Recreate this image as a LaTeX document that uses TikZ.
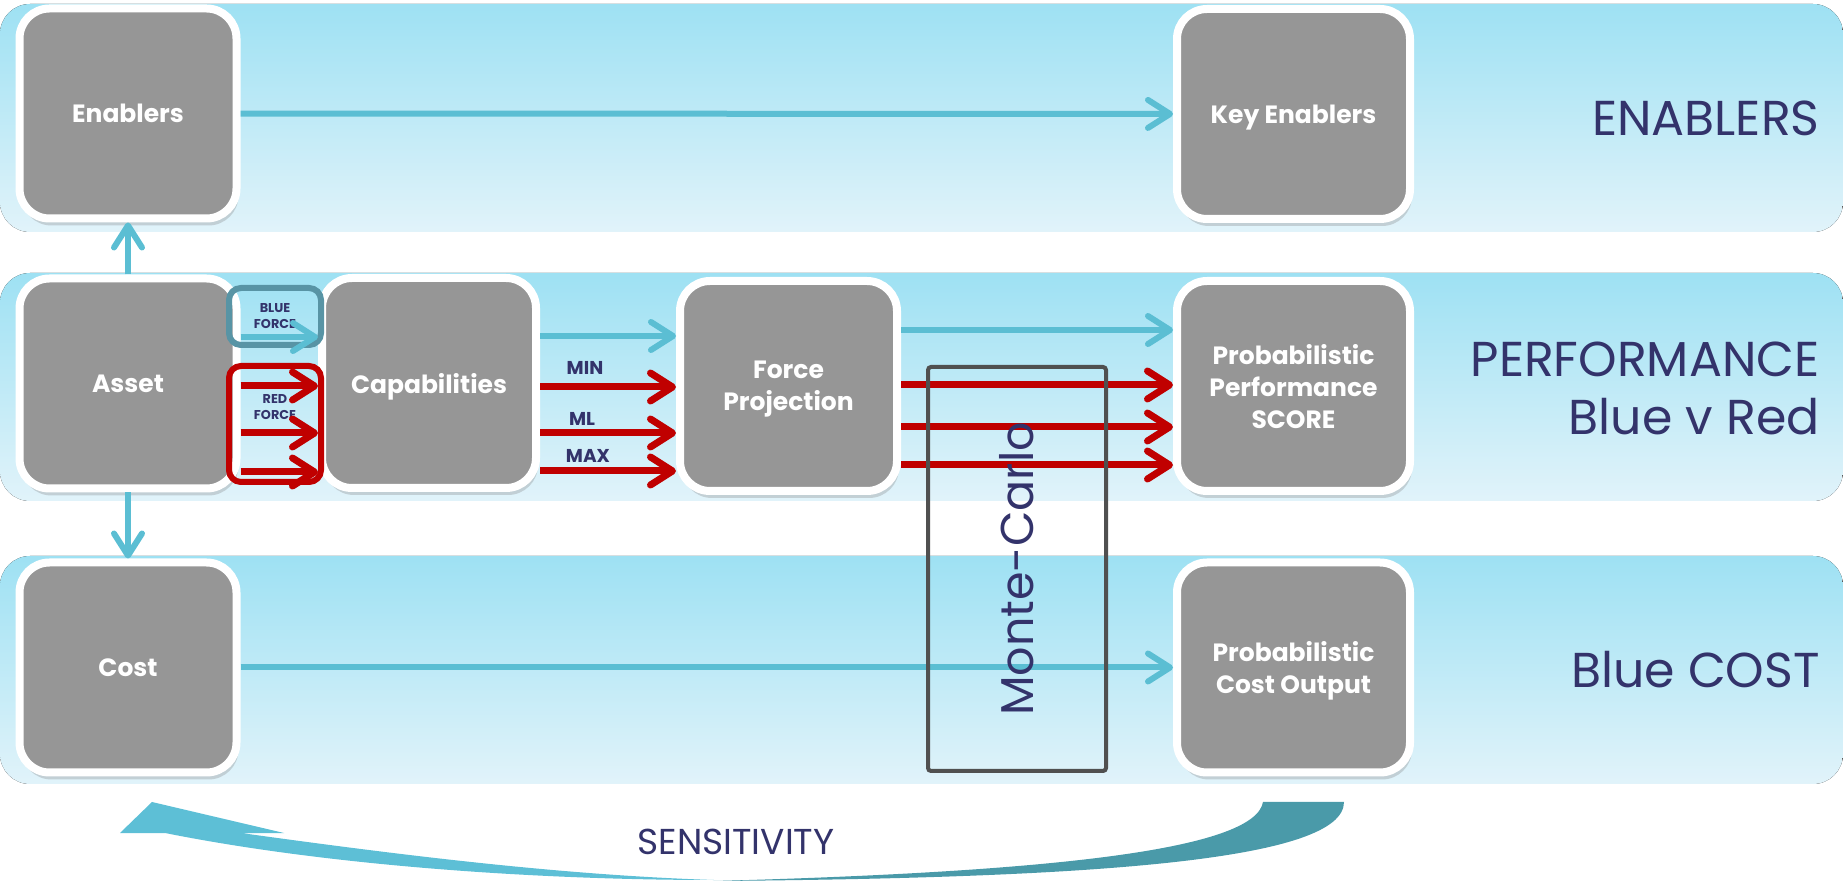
\documentclass[tikz,border=0pt]{standalone}
\usepackage{fontspec}
\setmainfont{Poppins}
\usepackage{xcolor}
\usepackage{tikz}
\usetikzlibrary{arrows.meta, shadows}

\definecolor{bandtop}{HTML}{9EE1F3}
\definecolor{bandbot}{HTML}{E1F3FA}
\definecolor{boxgray}{HTML}{969696}
\definecolor{flowblue}{HTML}{5BBED3}
\definecolor{flowred}{HTML}{C00000}
\definecolor{labnavy}{HTML}{33336B}
\definecolor{forceblue}{HTML}{5894A5}
\definecolor{mcgray}{HTML}{505050}
\definecolor{senslight}{HTML}{5DBFD6}
\definecolor{sensdark}{HTML}{4A9AA9}

\begin{document}
\begin{tikzpicture}[
    x=0.5pt, y=-0.5pt,
    band/.style={top color=bandtop, bottom color=bandbot, rounded corners=15pt},
    blk/.style={rectangle, rounded corners=15pt, draw=white, fill=boxgray, line width=4pt, minimum width=108.5pt, minimum height=105pt, align=center, text depth=0pt, text=white, font=\fontsize{12.5}{16}\selectfont\bfseries, drop shadow={shadow xshift=1pt, shadow yshift=-3.5pt, opacity=0.3}},
    blkw/.style={blk, minimum width=116.5pt},
    fbox/.style={rectangle, rounded corners=6pt, line width=3pt, minimum width=46pt},
    tag/.style={text=labnavy, font=\fontsize{6.4}{8}\selectfont\bfseries, align=center},
    side/.style={text=labnavy, font=\fontsize{24.5}{29}\selectfont, inner sep=0pt},
    val/.style={text=labnavy, font=\fontsize{9.3}{11}\selectfont\bfseries, inner sep=0pt},
    mcbox/.style={draw=mcgray, line width=2pt, rounded corners=1.5pt, text=labnavy, font=\fontsize{23}{28}\selectfont},
    barr/.style={-{Straight Barb[length=11pt, width=14pt, round]}, line width=3pt, flowblue},
    rarr/.style={-{Straight Barb[length=11pt, width=14pt, round]}, line width=3.5pt, flowred},
]
\useasboundingbox (0,0) rectangle (1843,881);

\fill[band] (0,4) rectangle (1843,232);
\fill[band] (0,273) rectangle (1843,501);
\fill[band] (0,556) rectangle (1843,784);

\node[blk] (ena) at (128,113.5) {Enablers};
\node[blkw] (key) at (1293.5,114) {Key Enablers};
\node[blk] (asset) at (128,383.5) {Asset};
\node[blk, minimum width=107pt] (cap) at (429,383) {Capabilities};
\node[blk] (fp) at (788.5,386) {Force\\Projection};
\node[blkw] (pps) at (1293.5,386) {Probabilistic\\Performance\\SCORE};
\node[blk] (cost) at (128,667.5) {Cost};
\node[blkw] (pco) at (1293.5,667.5) {Probabilistic\\Cost Output};

\node[fbox, draw=forceblue, minimum height=28.5pt, tag] (bf) at (275,316.5) {BLUE\\FORCE};
\node[fbox, draw=flowred, minimum height=58pt] (rf) at (275,424) {};
\node[tag] (rft) at (275,407) {RED\\FORCE};

\node[val, anchor=base] (vmin) at (585,375) {MIN};
\node[val, anchor=base] (vml) at (582,426) {ML};
\node[val, anchor=base] (vmax) at (588,463) {MAX};

\node[side, anchor=base east] (lenab) at (1820,136) {ENABLERS};
\node[side, anchor=base east] (lperf) at (1820,377) {PERFORMANCE};
\node[side, anchor=base east] (lbvr) at (1820,435) {Blue v Red};
\node[side, anchor=base east] (lcost) at (1820,688) {Blue COST};

\draw[barr] (ena) -- (key);
\draw[barr] (asset) -- (ena);
\draw[barr] (asset) -- (cost);
\draw[barr] (cost) -- (pco);
\draw[barr] (asset.east |- 0,337) -- (cap.west |- 0,337);
\draw[rarr] (asset.east |- 0,386) -- (cap.west |- 0,386);
\draw[rarr] (asset.east |- 0,433) -- (cap.west |- 0,433);
\draw[rarr] (asset.east |- 0,472) -- (cap.west |- 0,472);
\draw[barr] (cap.east |- 0,336) -- (fp.west |- 0,336);
\draw[rarr] (cap.east |- 0,387) -- (fp.west |- 0,387);
\draw[rarr] (cap.east |- 0,433) -- (fp.west |- 0,433);
\draw[rarr] (cap.east |- 0,471) -- (fp.west |- 0,471);
\draw[barr] (fp.east |- 0,330) -- (pps.west |- 0,330);
\draw[rarr] (fp.east |- 0,385) -- (pps.west |- 0,385);
\draw[rarr] (fp.east |- 0,427) -- (pps.west |- 0,427);
\draw[rarr] (fp.east |- 0,465) -- (pps.west |- 0,465);

\node[mcbox, rotate=90, minimum width=202pt, minimum height=89pt] (mc) at (1017,569) {Monte-Carlo};

\fill[senslight] (152,802) -- (284,833) -- (241,833) .. controls (400,855) and (560,875) .. (714,880) .. controls (540,880) and (330,866) .. (165,833) -- (120,833) -- cycle;
\fill[sensdark] (1263,802) -- (1344,802) .. controls (1344,860) and (1100,878) .. (714,881) .. controls (1050,872) and (1255,850) .. (1263,802) -- cycle;
\node[text=labnavy, font=\fontsize{18}{22}\selectfont, anchor=base] (sens) at (736,855) {SENSITIVITY};

\end{tikzpicture}
\end{document}
